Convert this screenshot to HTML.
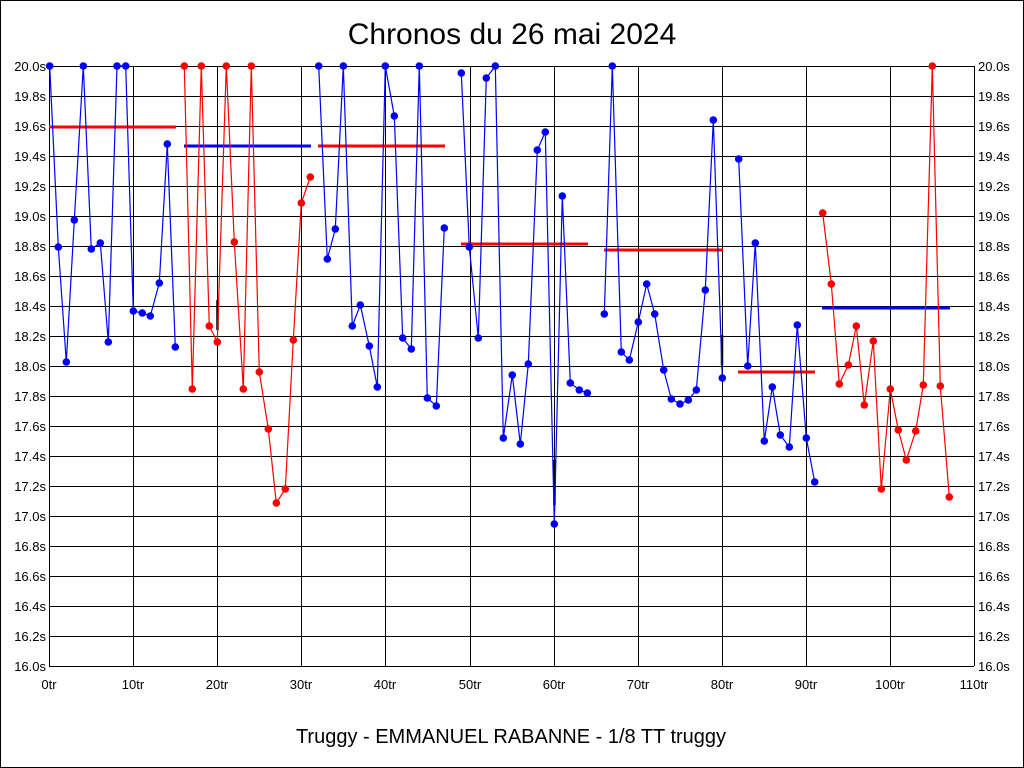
<!DOCTYPE html>
<html><head><meta charset="utf-8"><style>
html,body{margin:0;padding:0;background:#fff}
svg{display:block}
text{font-family:"Liberation Sans",sans-serif;fill:#000}
circle{r:3.8px}
</style></head><body>
<svg width="1024" height="768" viewBox="0 0 1024 768" xmlns="http://www.w3.org/2000/svg">
<rect x="0.5" y="0.5" width="1023" height="767" fill="#fff" stroke="#000"/>
<text x="512" y="44" font-size="30" text-anchor="middle">Chronos du 26 mai 2024</text>
<text x="511" y="743" font-size="20" text-anchor="middle">Truggy - EMMANUEL RABANNE - 1/8 TT truggy</text>
<g stroke="#000" stroke-width="1" shape-rendering="crispEdges">
<path d="M49 66.5H974M49 96.5H974M49 126.5H974M49 156.5H974M49 186.5H974M49 216.5H974M49 246.5H974M49 276.5H974M49 306.5H974M49 336.5H974M49 366.5H974M49 396.5H974M49 426.5H974M49 456.5H974M49 486.5H974M49 516.5H974M49 546.5H974M49 576.5H974M49 606.5H974M49 636.5H974M49 666.5H974"/>
<path d="M49.5 66V666M133.5 66V666M217.5 66V666M301.5 66V666M385.5 66V666M470.5 66V666M554.5 66V666M638.5 66V666M722.5 66V666M806.5 66V666M890.5 66V666M974.5 66V666"/>
</g>
<g font-size="13" text-anchor="end">
<text x="46" y="71">20.0s</text><text x="46" y="101">19.8s</text><text x="46" y="131">19.6s</text><text x="46" y="161">19.4s</text><text x="46" y="191">19.2s</text><text x="46" y="221">19.0s</text><text x="46" y="251">18.8s</text><text x="46" y="281">18.6s</text><text x="46" y="311">18.4s</text><text x="46" y="341">18.2s</text><text x="46" y="371">18.0s</text><text x="46" y="401">17.8s</text><text x="46" y="431">17.6s</text><text x="46" y="461">17.4s</text><text x="46" y="491">17.2s</text><text x="46" y="521">17.0s</text><text x="46" y="551">16.8s</text><text x="46" y="581">16.6s</text><text x="46" y="611">16.4s</text><text x="46" y="641">16.2s</text><text x="46" y="671">16.0s</text>
</g>
<g font-size="13" text-anchor="start">
<text x="978" y="71">20.0s</text><text x="978" y="101">19.8s</text><text x="978" y="131">19.6s</text><text x="978" y="161">19.4s</text><text x="978" y="191">19.2s</text><text x="978" y="221">19.0s</text><text x="978" y="251">18.8s</text><text x="978" y="281">18.6s</text><text x="978" y="311">18.4s</text><text x="978" y="341">18.2s</text><text x="978" y="371">18.0s</text><text x="978" y="401">17.8s</text><text x="978" y="431">17.6s</text><text x="978" y="461">17.4s</text><text x="978" y="491">17.2s</text><text x="978" y="521">17.0s</text><text x="978" y="551">16.8s</text><text x="978" y="581">16.6s</text><text x="978" y="611">16.4s</text><text x="978" y="641">16.2s</text><text x="978" y="671">16.0s</text>
</g>
<g font-size="13" text-anchor="middle">
<text x="49" y="689">0tr</text><text x="133" y="689">10tr</text><text x="217" y="689">20tr</text><text x="301" y="689">30tr</text><text x="385" y="689">40tr</text><text x="470" y="689">50tr</text><text x="554" y="689">60tr</text><text x="638" y="689">70tr</text><text x="722" y="689">80tr</text><text x="806" y="689">90tr</text><text x="890" y="689">100tr</text><text x="974" y="689">110tr</text>
</g>
<g stroke="#000" stroke-width="2.5">
<path d="M217.5 300V330M554.5 460V505M722 335V365"/>
</g>
<g stroke-width="3">
<path d="M49 127H176" stroke="#f00"/>
<path d="M184 146H311" stroke="#00f"/>
<path d="M318 146H445" stroke="#f00"/>
<path d="M461 244H588" stroke="#f00"/>
<path d="M604 250H723" stroke="#f00"/>
<path d="M738 372H815" stroke="#f00"/>
<path d="M822 308H950" stroke="#00f"/>
</g>
<g fill="none" stroke-width="1.2">
<polyline stroke="#00f" points="49.7,66 58.3,247 66.3,362 74.3,220 83.3,66 91.3,249 100.3,243 108.3,342 117,66 125.7,66 133.3,311 142.3,313 150.3,316 159.3,283 167.3,144 175.3,347"/>
<polyline stroke="#f00" points="184.3,66 192.3,389 201.3,66 209.3,326 217.3,342 226.3,66 234.3,242 243.3,389 251.3,66 259.3,372 268.3,429 276.3,503 285.3,489 293.3,340 301.3,203 310.3,177"/>
<polyline stroke="#00f" points="318.7,66 327.3,259 335.3,229 343.3,66 352.3,326 360.3,305 369.3,346 377.3,387 385.3,66 394.3,116 402.7,338 411.3,349 419.3,66 427.3,398 436.3,406 444.3,228"/>
<polyline stroke="#00f" points="461.3,73 469.3,247 478.3,338 486.3,78 495.3,66 503.3,438 512.3,375 520.3,444 528.3,364 537.3,150 545.3,132 554.3,524 562.3,196 570.3,383 579.3,390 587.3,393"/>
<polyline stroke="#00f" points="604.3,314 612.3,66 621.3,352 629.3,360 638.3,322 646.7,284 654.7,314 663.7,370 671.3,399 680,404 688.3,400 696.3,390 705.3,290 713.3,120 722.3,378"/>
<polyline stroke="#00f" points="738.7,159 747.7,366 755.3,243 764.3,441 772.3,387 780.3,435 789.3,447 797.3,325 806.3,438 814.7,482"/>
<polyline stroke="#f00" points="822.7,213 831.3,284 839.3,384 848.3,365 856.3,326 864.3,405 873.3,341 881.3,489 890.3,389 898.3,430 906.3,460 915.7,431 923.3,385 932.3,66 940.3,386 949.3,497"/>
</g>
<g fill="#00f">
<circle cx="49.7" cy="66" r="3.8"/><circle cx="58.3" cy="247" r="3.8"/><circle cx="66.3" cy="362" r="3.8"/><circle cx="74.3" cy="220" r="3.8"/><circle cx="83.3" cy="66" r="3.8"/><circle cx="91.3" cy="249" r="3.8"/><circle cx="100.3" cy="243" r="3.8"/><circle cx="108.3" cy="342" r="3.8"/><circle cx="117" cy="66" r="3.8"/><circle cx="125.7" cy="66" r="3.8"/><circle cx="133.3" cy="311" r="3.8"/><circle cx="142.3" cy="313" r="3.8"/><circle cx="150.3" cy="316" r="3.8"/><circle cx="159.3" cy="283" r="3.8"/><circle cx="167.3" cy="144" r="3.8"/><circle cx="175.3" cy="347" r="3.8"/>
<circle cx="318.7" cy="66" r="3.8"/><circle cx="327.3" cy="259" r="3.8"/><circle cx="335.3" cy="229" r="3.8"/><circle cx="343.3" cy="66" r="3.8"/><circle cx="352.3" cy="326" r="3.8"/><circle cx="360.3" cy="305" r="3.8"/><circle cx="369.3" cy="346" r="3.8"/><circle cx="377.3" cy="387" r="3.8"/><circle cx="385.3" cy="66" r="3.8"/><circle cx="394.3" cy="116" r="3.8"/><circle cx="402.7" cy="338" r="3.8"/><circle cx="411.3" cy="349" r="3.8"/><circle cx="419.3" cy="66" r="3.8"/><circle cx="427.3" cy="398" r="3.8"/><circle cx="436.3" cy="406" r="3.8"/><circle cx="444.3" cy="228" r="3.8"/>
<circle cx="461.3" cy="73" r="3.8"/><circle cx="469.3" cy="247" r="3.8"/><circle cx="478.3" cy="338" r="3.8"/><circle cx="486.3" cy="78" r="3.8"/><circle cx="495.3" cy="66" r="3.8"/><circle cx="503.3" cy="438" r="3.8"/><circle cx="512.3" cy="375" r="3.8"/><circle cx="520.3" cy="444" r="3.8"/><circle cx="528.3" cy="364" r="3.8"/><circle cx="537.3" cy="150" r="3.8"/><circle cx="545.3" cy="132" r="3.8"/><circle cx="554.3" cy="524" r="3.8"/><circle cx="562.3" cy="196" r="3.8"/><circle cx="570.3" cy="383" r="3.8"/><circle cx="579.3" cy="390" r="3.8"/><circle cx="587.3" cy="393" r="3.8"/>
<circle cx="604.3" cy="314" r="3.8"/><circle cx="612.3" cy="66" r="3.8"/><circle cx="621.3" cy="352" r="3.8"/><circle cx="629.3" cy="360" r="3.8"/><circle cx="638.3" cy="322" r="3.8"/><circle cx="646.7" cy="284" r="3.8"/><circle cx="654.7" cy="314" r="3.8"/><circle cx="663.7" cy="370" r="3.8"/><circle cx="671.3" cy="399" r="3.8"/><circle cx="680" cy="404" r="3.8"/><circle cx="688.3" cy="400" r="3.8"/><circle cx="696.3" cy="390" r="3.8"/><circle cx="705.3" cy="290" r="3.8"/><circle cx="713.3" cy="120" r="3.8"/><circle cx="722.3" cy="378" r="3.8"/>
<circle cx="738.7" cy="159" r="3.8"/><circle cx="747.7" cy="366" r="3.8"/><circle cx="755.3" cy="243" r="3.8"/><circle cx="764.3" cy="441" r="3.8"/><circle cx="772.3" cy="387" r="3.8"/><circle cx="780.3" cy="435" r="3.8"/><circle cx="789.3" cy="447" r="3.8"/><circle cx="797.3" cy="325" r="3.8"/><circle cx="806.3" cy="438" r="3.8"/><circle cx="814.7" cy="482" r="3.8"/>
</g>
<g fill="#f00">
<circle cx="184.3" cy="66" r="3.8"/><circle cx="192.3" cy="389" r="3.8"/><circle cx="201.3" cy="66" r="3.8"/><circle cx="209.3" cy="326" r="3.8"/><circle cx="217.3" cy="342" r="3.8"/><circle cx="226.3" cy="66" r="3.8"/><circle cx="234.3" cy="242" r="3.8"/><circle cx="243.3" cy="389" r="3.8"/><circle cx="251.3" cy="66" r="3.8"/><circle cx="259.3" cy="372" r="3.8"/><circle cx="268.3" cy="429" r="3.8"/><circle cx="276.3" cy="503" r="3.8"/><circle cx="285.3" cy="489" r="3.8"/><circle cx="293.3" cy="340" r="3.8"/><circle cx="301.3" cy="203" r="3.8"/><circle cx="310.3" cy="177" r="3.8"/>
<circle cx="822.7" cy="213" r="3.8"/><circle cx="831.3" cy="284" r="3.8"/><circle cx="839.3" cy="384" r="3.8"/><circle cx="848.3" cy="365" r="3.8"/><circle cx="856.3" cy="326" r="3.8"/><circle cx="864.3" cy="405" r="3.8"/><circle cx="873.3" cy="341" r="3.8"/><circle cx="881.3" cy="489" r="3.8"/><circle cx="890.3" cy="389" r="3.8"/><circle cx="898.3" cy="430" r="3.8"/><circle cx="906.3" cy="460" r="3.8"/><circle cx="915.7" cy="431" r="3.8"/><circle cx="923.3" cy="385" r="3.8"/><circle cx="932.3" cy="66" r="3.8"/><circle cx="940.3" cy="386" r="3.8"/><circle cx="949.3" cy="497" r="3.8"/>
</g>
</svg>
</body></html>
